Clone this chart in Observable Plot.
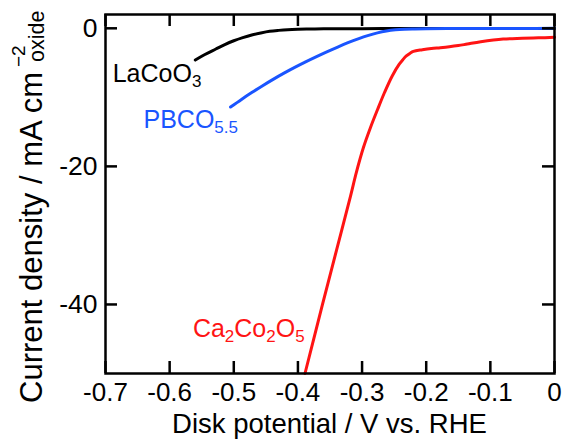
<!DOCTYPE html>
<html><head><meta charset="utf-8">
<script src="https://cdn.jsdelivr.net/npm/d3@7"></script>
<script src="https://cdn.jsdelivr.net/npm/@observablehq/plot@0.6"></script>
<style>
html,body{margin:0;padding:0;background:#fff}
#chart{width:563px;height:439px;overflow:hidden}
</style></head><body><div id="chart"></div>
<script>
// ---- data ----
const lacoo3X = [-0.560, -0.545, -0.528, -0.514, -0.500, -0.486, -0.472, -0.458, -0.444, -0.430, -0.416, -0.400, -0.380, -0.360, -0.330, -0.300, -0.250, -0.200, -0.100, 0.000];
const lacoo3Y = [-4.6, -3.8, -3.0, -2.35, -1.8, -1.35, -0.97, -0.68, -0.44, -0.30, -0.20, -0.14, -0.10, -0.08, -0.06, -0.05, -0.04, -0.03, -0.02, -0.01];

const pbcoX = [-0.505, -0.488, -0.472, -0.455, -0.438, -0.421, -0.405, -0.388, -0.371, -0.355, -0.338, -0.321, -0.304, -0.290, -0.276, -0.262, -0.248, -0.234, -0.220, -0.200, -0.150, -0.100, -0.050, 0.000];
const pbcoY = [-11.4, -10.3, -9.31, -8.31, -7.36, -6.46, -5.66, -4.86, -4.10, -3.41, -2.71, -2.05, -1.45, -1.03, -0.66, -0.39, -0.22, -0.13, -0.09, -0.06, -0.04, -0.03, -0.02, 0.0];

const ccoX = [-0.389, -0.362, -0.340, -0.318, -0.309, -0.298, -0.287, -0.276, -0.265, -0.253, -0.242, -0.236, -0.231, -0.225, -0.220, -0.206, -0.192, -0.178, -0.164, -0.150, -0.136, -0.115, -0.080, -0.050, -0.025, 0.000];
const ccoY = [-50, -40.1, -32.2, -24.3, -20.9, -17.3, -14.4, -11.8, -9.3, -6.9, -5.2, -4.5, -4.0, -3.6, -3.35, -3.1, -2.91, -2.8, -2.67, -2.5, -2.28, -1.95, -1.56, -1.45, -1.38, -1.31];

const xTicks = [-0.7, -0.6, -0.5, -0.4, -0.3, -0.2, -0.1, 0];
const yTicks = [0, -20, -40];

const seriesNames = ["LaCoO3", "PBCO5.5", "Ca2Co2O5"];
const seriesColors = ["#000000", "#1a55ff", "#ff1414"];
// label anchor positions (data units) and text parts [text, isSubscript]
const labelX = [-0.688, -0.640, -0.563];
const labelY = [-7.86, -14.53, -44.83];
const labelParts = [
  [["LaCoO", 0], ["3", 1]],
  [["PBCO", 0], ["5.5", 1]],
  [["Ca", 0], ["2", 1], ["Co", 0], ["2", 1], ["O", 0], ["5", 1]]
];

const xLabel = "Disk potential / V vs. RHE";
const yLabelMain = "Current density / mA cm";
const yLabelSup = "\u22122";
const yLabelSub = "oxide";

// ---- build tables ----
const toRows = (xs, ys, name) => xs.map((x, i) => ({x, y: ys[i], name}));
const rows = [
  ...toRows(lacoo3X, lacoo3Y, seriesNames[0]),
  ...toRows(pbcoX, pbcoY, seriesNames[1]),
  ...toRows(ccoX, ccoY, seriesNames[2])
];

const FONT = "'Liberation Sans', Arial, Helvetica, sans-serif";
const W = 563, H = 439, ML = 105, MR = 9, MT = 14, MB = 66;
const FW = W - ML - MR, FH = H - MT - MB, TICK = 12;

const plot = Plot.plot({
  width: W, height: H,
  marginLeft: ML, marginRight: MR, marginTop: MT, marginBottom: MB,
  x: {domain: [-0.7, 0]},
  y: {domain: [-50, 2]},
  color: {domain: seriesNames, range: seriesColors},
  style: {fontFamily: FONT, background: "white", color: "black", overflow: "visible"},
  marks: [
    Plot.line(rows, {x: "x", y: "y", z: "name", stroke: "name", strokeWidth: 3, curve: "catmull-rom"}),
    Plot.ruleX(xTicks, {x: d => d, insetTop: FH - TICK, stroke: "black", strokeWidth: 2.5}),
    Plot.ruleX(xTicks, {x: d => d, insetBottom: FH - TICK, stroke: "black", strokeWidth: 2.5}),
    Plot.ruleY(yTicks, {y: d => d, insetRight: FW - TICK, stroke: "black", strokeWidth: 2.5}),
    Plot.ruleY(yTicks, {y: d => d, insetLeft: FW - TICK, stroke: "black", strokeWidth: 2.5}),
    Plot.frame({stroke: "black", strokeWidth: 2.5}),
    Plot.axisX({ticks: xTicks, anchor: "bottom", tickSize: 0, tickPadding: 9, fontSize: 26,
      tickFormat: d => d === 0 ? "0" : d.toFixed(1), label: null, fill: "black"}),
    Plot.axisY({ticks: yTicks, anchor: "left", tickSize: 0, tickPadding: 8, fontSize: 26.5,
      tickFormat: d => String(d), label: null, fill: "black"})
  ]
});

document.getElementById("chart").appendChild(plot);
const svg = d3.select(plot);
const sx = plot.scale("x"), sy = plot.scale("y");

// series labels with subscripts
labelParts.forEach((parts, k) => {
  const t = svg.append("text")
    .attr("x", sx.apply(labelX[k])).attr("y", sy.apply(labelY[k]))
    .attr("fill", seriesColors[k]).attr("text-anchor", "start")
    .attr("font-family", FONT).attr("font-size", 25);
  let shift = 0;
  parts.forEach(([s, sub]) => {
    const target = sub ? 5 : 0;
    t.append("tspan").attr("dy", target - shift).attr("font-size", sub ? 17 : 25).text(s);
    shift = target;
  });
});

// x axis label
svg.append("text")
  .attr("x", ML + FW / 2).attr("y", 433)
  .attr("text-anchor", "middle").attr("font-family", FONT).attr("font-size", 27.5)
  .attr("fill", "black").text(xLabel);

// y axis label (rotated) with superscript and subscript
const g = svg.append("g").attr("transform", "translate(42,403) rotate(-90)")
  .attr("font-family", FONT).attr("fill", "black");
g.append("text").attr("x", 0).attr("y", 0).attr("text-anchor", "start")
  .attr("font-size", 30.5).attr("textLength", 331).attr("lengthAdjust", "spacingAndGlyphs")
  .text(yLabelMain);
g.append("text").attr("x", 336).attr("y", -17).attr("text-anchor", "start")
  .attr("font-size", 19).text(yLabelSup);
g.append("text").attr("x", 341).attr("y", 2).attr("text-anchor", "start")
  .attr("font-size", 21.5).text(yLabelSub);
</script>
</body></html>
